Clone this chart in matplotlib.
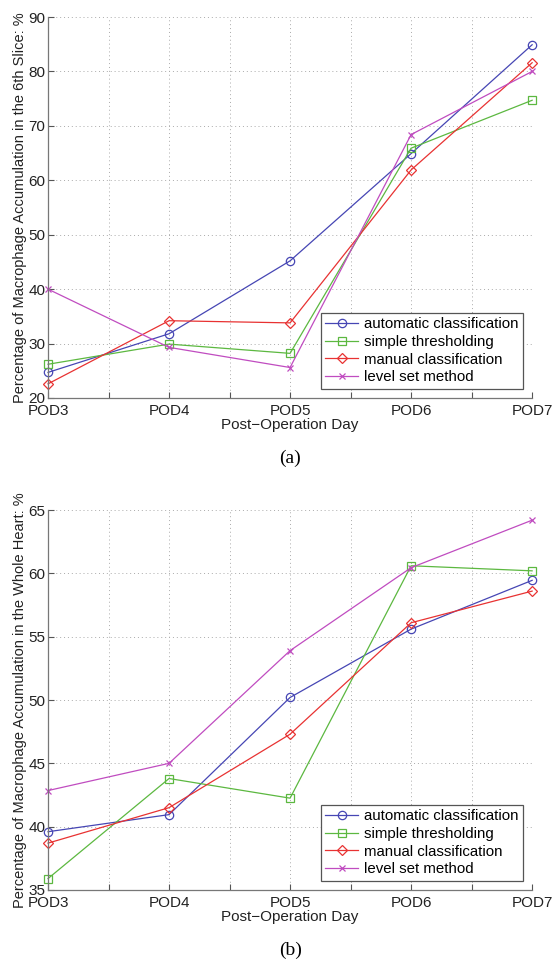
import matplotlib
matplotlib.use("Agg")
import matplotlib.pyplot as plt
import numpy as np

days = ["POD3", "POD4", "POD5", "POD6", "POD7"]
series_names = ["automatic classification", "simple thresholding",
                "manual classification", "level set method"]

slice6_auto = [24.7, 31.8, 45.2, 64.9, 84.9]
slice6_simple = [26.2, 29.9, 28.2, 65.9, 74.7]
slice6_manual = [22.6, 34.2, 33.8, 61.9, 81.6]
slice6_level = [40.0, 29.3, 25.6, 68.4, 80.0]

heart_auto = [39.6, 40.95, 50.2, 55.6, 59.45]
heart_simple = [35.9, 43.8, 42.25, 60.6, 60.2]
heart_manual = [38.7, 41.5, 47.3, 56.1, 58.6]
heart_level = [42.85, 45.0, 53.9, 60.45, 64.2]

colors = ["#4646b4", "#5cb840", "#e83232", "#c04cc0"]
markers = ["o", "s", "D", "x"]
msizes = [6, 5.5, 5.5, 5]

plt.rcParams['font.family'] = ['Liberation Sans', 'DejaVu Sans']

fig = plt.figure(figsize=(5.52, 9.66), dpi=100)
ax1 = fig.add_axes([0.087, 0.588, 0.877, 0.3944])
ax2 = fig.add_axes([0.087, 0.0787, 0.877, 0.3933])

def style(ax, data, ylim, yticks, ylabel, tag):
    x = np.arange(len(days))
    for d, c, m, ms, name in zip(data, colors, markers, msizes, series_names):
        ax.plot(x, d, color=c, marker=m, markersize=ms, markerfacecolor='none',
                markeredgecolor=c, linewidth=0.9, markeredgewidth=0.9, label=name,
                clip_on=False)
    ax.set_xlim(0, 4)
    ax.set_ylim(*ylim)
    xt = np.arange(0, 4.01, 0.5)
    ax.set_xticks(xt)
    ax.set_xticklabels([days[int(v)] if v == int(v) else "" for v in xt])
    ax.set_yticks(yticks)
    ax.tick_params(direction='in', length=4, width=0.8, colors='#555555',
                   labelcolor='#222222', labelsize=11, pad=2)
    ax.tick_params(axis='x', pad=4)
    ax.grid(True, linestyle=(0, (1, 3)), color='#aaaaaa', linewidth=0.7)
    for s in ['top', 'right']:
        ax.spines[s].set_visible(False)
    for s in ['left', 'bottom']:
        ax.spines[s].set_color('#777777')
        ax.spines[s].set_linewidth(0.9)
    ax.set_xlabel("Post\u2212Operation Day", fontsize=11, labelpad=0, color='#222222')
    ax.set_ylabel(ylabel, fontsize=10.5, labelpad=1, color='#222222')
    leg = ax.legend(loc='lower right', fontsize=10.8, frameon=True, fancybox=False,
                    edgecolor='#555555', framealpha=1, borderaxespad=0.6,
                    handlelength=2.2, handletextpad=0.4, labelspacing=0.25,
                    borderpad=0.3)
    leg.get_frame().set_linewidth(0.9)
    ax.text(0.5, -0.158, tag, transform=ax.transAxes, ha='center', va='center',
            fontsize=14, family='Liberation Serif')

style(ax1, [slice6_auto, slice6_simple, slice6_manual, slice6_level],
      (20, 90), np.arange(20, 91, 10),
      "Percentage of Macrophage Accumulation in the 6th Slice: %", "(a)")
style(ax2, [heart_auto, heart_simple, heart_manual, heart_level],
      (35, 65), np.arange(35, 66, 5),
      "Percentage of Macrophage Accumulation in the Whole Heart: %", "(b)")

fig.savefig("out.png", dpi=100)
